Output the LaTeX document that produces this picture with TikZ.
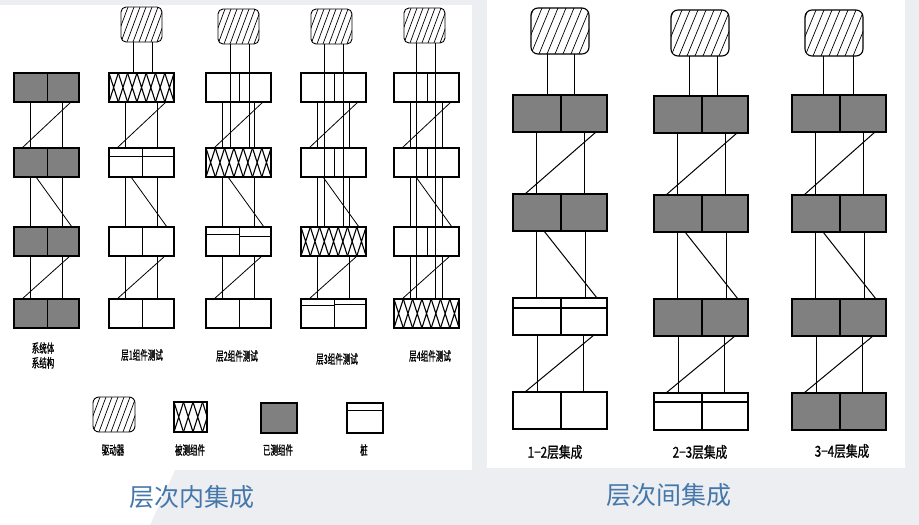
\documentclass[tikz,border=0pt]{standalone}
\usepackage{fontspec}
\usepackage{graphicx}
\newfontfamily\cjk{Noto Sans CJK SC}
\newfontfamily\cjkb{Noto Sans CJK SC}[FakeBold=1.2]
\usetikzlibrary{calc}
\definecolor{done}{HTML}{808080}
\definecolor{titleblue}{HTML}{4577AB}
\definecolor{bggray}{HTML}{ECEEF1}
\newcommand\dv[3]{\draw[#1] ($(#2.north west)+(#3,0)$) -- ($(#2.south west)+(#3,0)$);}
\newcommand\cn[5]{\draw[#1] ($(#2.south west)+(#4,0)$) -- ($(#3.north west)+(#5,0)$);}
\newcommand\dl[4]{\draw[#1] ($(#2.south west)+(#4,0)$) coordinate (tmp) -- (tmp |- #3.north);}
\newcommand\stubl[5]{\draw[#1] ($(#2.north west)+(0,#3)$) -- ($(#2.north west)+(#5,#3)$);
  \draw[#1] ($(#2.north west)+(#5,#4)$) -- ($(#2.north east)+(0,#4)$);}
\newcommand\sq[2]{\scalebox{#1}[1]{#2}}
\tikzset{
  boxL/.style={draw, line width=1.1pt, fill=white, inner sep=0pt, outer sep=0pt,
    minimum width=65, minimum height=29, anchor=north west},
  boxR/.style={boxL, line width=1.4pt, minimum width=94, minimum height=37},
  tested/.style={path picture={\foreach \k in {-1,...,11}{
     \draw[line width=1.1pt] ($(path picture bounding box.south west)+({\k*#1},0)$) -- ($(path picture bounding box.north west)+({(\k+1)*#1},0)$)
       ($(path picture bounding box.south west)+({(\k+1)*#1},0)$) -- ($(path picture bounding box.north west)+({\k*#1},0)$);}}},
  hatch/.style 2 args={path picture={\foreach \k in {-4,...,13}{
     \draw[line width=0.7pt] ($(path picture bounding box.south west)+({\k*#1},0)$) -- ($(path picture bounding box.north west)+({\k*#1+#2},0)$);}}},
  drvS/.style={draw, line width=0.9pt, fill=white, rounded corners=5pt, inner sep=0pt, outer sep=0pt,
    minimum width=41, minimum height=35, anchor=north west, hatch={6}{13}},
  drvR/.style={drvS, rounded corners=7pt, line width=1.1pt, minimum width=58, minimum height=46, hatch={8}{19}},
  connL/.style={line width=0.8pt},
  connR/.style={line width=1.0pt},
  divL/.style={line width=1.0pt},
  divR/.style={line width=1.2pt},
  lblS/.style={font=\cjkb\fontsize{12.5}{14}\selectfont, inner sep=0pt},
  lblR/.style={font=\cjkb\fontsize{15}{17}\selectfont, inner sep=0pt},
  ttl/.style={font=\cjk\fontsize{25}{28}\selectfont, text=titleblue, inner sep=0pt}
}
\begin{document}
\begin{tikzpicture}[x=1pt,y=-1pt]
\useasboundingbox (0,0) rectangle (919,525);
% background
\fill[bggray] (0,0) rectangle (919,525);
\fill[white] (0,5) rectangle (472,470);
\fill[white] (0,470) -- (175,470) -- (150,525) -- (0,525) -- cycle;
\fill[white] (487,0) rectangle (905,468);

% ---------- left panel: column 1 ----------
\node[boxL,fill=done] (a1) at (14,73) {};
\node[boxL,fill=done] (a2) at (14,148) {};
\node[boxL,fill=done] (a3) at (14,227) {};
\node[boxL,fill=done] (a4) at (14,299) {};
% column 2
\node[drvS] (bd) at (121,7) {};
\node[boxL,tested=9.3] (b1) at (109,73) {};
\node[boxL] (b2) at (109,148) {};
\node[boxL] (b3) at (109,227) {};
\node[boxL] (b4) at (109,299) {};
% column 3
\node[drvS] (cd) at (218,9) {};
\node[boxL] (c1) at (206,73) {};
\node[boxL,tested=9.3] (c2) at (206,148) {};
\node[boxL] (c3) at (206,227) {};
\node[boxL] (c4) at (206,299) {};
% column 4
\node[drvS] (dd) at (311,9) {};
\node[boxL] (d1) at (301,73) {};
\node[boxL] (d2) at (301,148) {};
\node[boxL,tested=9.3] (d3) at (301,227) {};
\node[boxL] (d4) at (301,299) {};
% column 5
\node[drvS] (ed) at (404,8) {};
\node[boxL] (e1) at (394,73) {};
\node[boxL] (e2) at (394,148) {};
\node[boxL] (e3) at (394,227) {};
\node[boxL,tested=9.3] (e4) at (394,299) {};

\foreach \n in {a1,a2,a3,a4,b2,b3,b4,c1,c3,c4,d1,d2,d4,e1,e2,e3}{\dv{divL}{\n}{33}}
\stubl{divL}{b2}{8}{8}{33}
\stubl{divL}{c3}{7}{9}{33}
\stubl{divL}{d4}{6.5}{5}{33}

\foreach \c in {a,b,c,d,e}{
  \cn{connL}{\c1}{\c2}{16}{16} \cn{connL}{\c1}{\c2}{48}{48} \cn{connL}{\c1}{\c2}{57}{8}
  \cn{connL}{\c2}{\c3}{16}{16} \cn{connL}{\c2}{\c3}{48}{48} \cn{connL}{\c2}{\c3}{22}{58}
  \cn{connL}{\c3}{\c4}{16}{16} \cn{connL}{\c3}{\c4}{48}{48} \cn{connL}{\c3}{\c4}{56}{8}
}
\dl{connL}{bd}{b1}{12} \dl{connL}{bd}{b1}{31}
\dl{connL}{cd}{c2}{12} \dl{connL}{cd}{c2}{31}
\dl{connL}{dd}{d3}{13} \dl{connL}{dd}{d3}{32}
\dl{connL}{ed}{e4}{12} \dl{connL}{ed}{e4}{31}

% labels
\node[lblS] (la) at (43,357) {\sq{0.6}{\begin{tabular}{@{}c@{}}系统体\\系结构\end{tabular}}};
\node[lblS] (lb) at (142,355) {\sq{0.6}{层1组件测试}};
\node[lblS] (lc) at (237,356) {\sq{0.6}{层2组件测试}};
\node[lblS] (ld) at (337,359) {\sq{0.6}{层3组件测试}};
\node[lblS] (le) at (430,356) {\sq{0.6}{层4组件测试}};

% legend
\node[drvS,minimum width=42,rounded corners=6pt] (g1) at (93,397) {};
\node[boxL,tested=9.5,minimum width=33,minimum height=30] (g2) at (174,402) {};
\node[boxL,fill=done,minimum width=36,minimum height=30] (g3) at (261,403) {};
\node[boxL,minimum width=36,minimum height=30] (g4) at (347,403) {};
\draw[divL] ($(g4.north west)+(0,7)$) -- ($(g4.north east)+(0,7)$);
\node[lblS] (tg1) at (113,450) {\sq{0.6}{驱动器}};
\node[lblS] (tg2) at (190,450) {\sq{0.6}{被测组件}};
\node[lblS] (tg3) at (278,450) {\sq{0.6}{已测组件}};
\node[lblS] (tg4) at (364,450) {\sq{0.6}{桩}};

\node[ttl] (t1) at (192,497) {层次内集成};

% ---------- right panel ----------
\node[drvR] (Ad) at (531,8) {};
\node[boxR,fill=done] (A1) at (513,95) {};
\node[boxR,fill=done] (A2) at (513,194) {};
\node[boxR] (A3) at (513,298) {};
\node[boxR] (A4) at (513,392) {};
\node[drvR] (Bd) at (671,10) {};
\node[boxR,fill=done] (B1) at (654,96) {};
\node[boxR,fill=done] (B2) at (654,195) {};
\node[boxR,fill=done] (B3) at (654,299) {};
\node[boxR] (B4) at (654,393) {};
\node[drvR] (Cd) at (805,10) {};
\node[boxR,fill=done] (C1) at (792,95) {};
\node[boxR,fill=done] (C2) at (792,195) {};
\node[boxR,fill=done] (C3) at (792,299) {};
\node[boxR,fill=done] (C4) at (792,393) {};

\foreach \n in {A1,A2,A3,A4,B1,B2,B3,B4,C1,C2,C3,C4}{\dv{divR}{\n}{48}}
\draw[divR] ($(A3.north west)+(0,10)$) -- ($(A3.north east)+(0,10)$);
\draw[divR] ($(B4.north west)+(0,9)$) -- ($(B4.north east)+(0,9)$);

\foreach \c in {A,B,C}{
  \cn{connR}{\c1}{\c2}{23}{23} \cn{connR}{\c1}{\c2}{71}{71} \cn{connR}{\c1}{\c2}{83}{12}
  \cn{connR}{\c2}{\c3}{23}{23} \cn{connR}{\c2}{\c3}{72}{72} \cn{connR}{\c2}{\c3}{31}{84}
  \cn{connR}{\c3}{\c4}{24}{24} \cn{connR}{\c3}{\c4}{70}{70} \cn{connR}{\c3}{\c4}{81}{12}
}
\dl{connR}{Ad}{A1}{16} \dl{connR}{Ad}{A1}{43}
\dl{connR}{Bd}{B1}{18} \dl{connR}{Bd}{B1}{46}
\dl{connR}{Cd}{C1}{18} \dl{connR}{Cd}{C1}{48}

\node[lblR] (lA) at (555,452) {\sq{0.78}{1−2层集成}};
\node[lblR] (lB) at (700,452) {\sq{0.78}{2−3层集成}};
\node[lblR] (lC) at (842,451) {\sq{0.78}{3−4层集成}};

\node[ttl] (t2) at (669,495) {层次间集成};
\end{tikzpicture}
\end{document}
